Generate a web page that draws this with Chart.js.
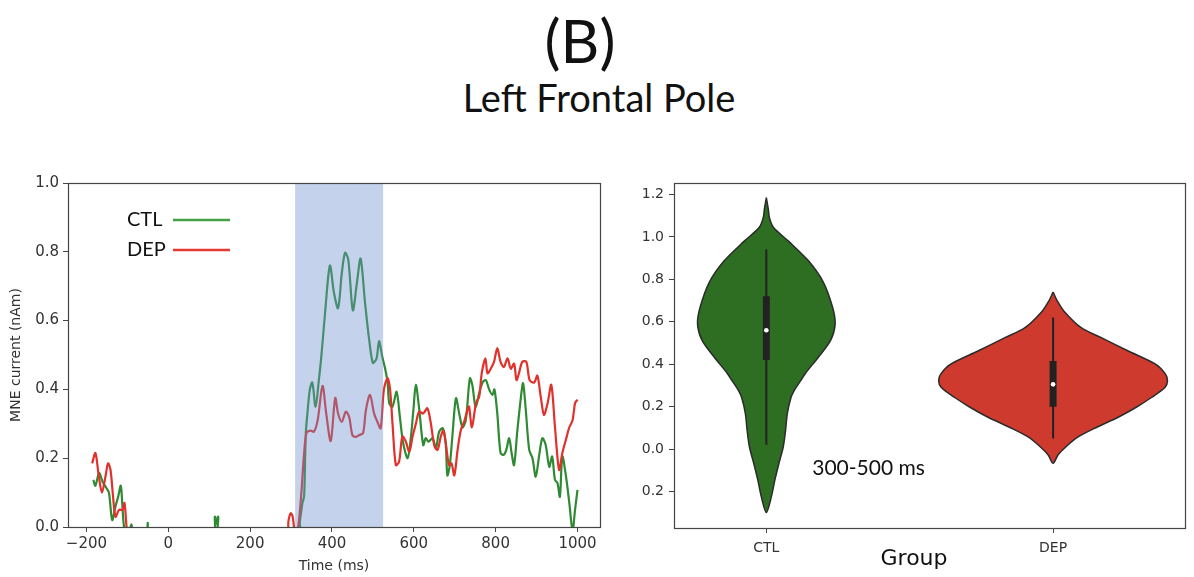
<!DOCTYPE html>
<html><head><meta charset="utf-8">
<script src="https://cdn.jsdelivr.net/npm/chart.js@4.4.0/dist/chart.umd.min.js"></script>
<style>
html,body{margin:0;padding:0;background:#fff;width:1194px;height:577px;overflow:hidden;}
#wrap{position:relative;width:1194px;height:577px;}
.t{position:absolute;text-align:center;font-family:Lato,'Open Sans',sans-serif;color:#111;white-space:nowrap;line-height:1;}
#t1{top:10px;left:380px;width:400px;font-size:60px;}
#t2{top:78px;left:399px;width:400px;font-size:38px;}
#c1{position:absolute;left:0;top:170px;}
#c2{position:absolute;left:610px;top:170px;}
</style></head>
<body><div id="wrap">
<div class="t" id="t1">(B)</div>
<div class="t" id="t2">Left Frontal Pole</div>
<canvas id="c1" width="610" height="407"></canvas>
<canvas id="c2" width="584" height="407"></canvas>
</div>
<script>
// ---------- Left panel data ----------
const seriesNames = ['CTL', 'DEP'];
const timeTicks = [-200, 0, 200, 400, 600, 800, 1000];
const timeTickLabels = ['\u2212200', '0', '200', '400', '600', '800', '1000'];
const currentTicks = [0, 0.2, 0.4, 0.6, 0.8, 1.0];
const currentTickLabels = ['0.0', '0.2', '0.4', '0.6', '0.8', '1.0'];
const shadeWindow = [310, 525];

const ctlTime = [-183,-178,-169,-160,-152,-145,-137,-129,-122,-116,-112,-108,-100,-90,-84,-54,-50,-46,108,114,118,122,127,316,322,328,332,336,340,346,352,360,368,374,383,395,405,415,424,432,440,451,461,470,481,491,500,509,515,523,530,536,540,548,558,566,574,585,593,599,605,613,623,629,636,646,654,662,671,678,682,688,694,703,711,719,727,737,743,751,760,768,776,784,792,797,804,812,820,826,833,839,845,853,862,867,873,882,890,898,906,914,922,931,938,945,951,957,963,972,980,988,994,1000];
const ctlValues = [0.137,0.12,0.157,0.13,0.115,0.10,0.02,0.06,0.09,0.12,0.06,0.0,-0.03,0.008,-0.03,-0.02,0.012,-0.03,-0.03,0.03,0.01,0.03,-0.03,-0.03,0.02,0.07,0.09,0.27,0.33,0.40,0.42,0.35,0.427,0.495,0.62,0.76,0.68,0.636,0.737,0.797,0.776,0.63,0.71,0.78,0.65,0.544,0.477,0.49,0.54,0.495,0.46,0.42,0.36,0.35,0.393,0.32,0.244,0.2,0.263,0.34,0.413,0.345,0.238,0.258,0.248,0.258,0.229,0.277,0.287,0.244,0.15,0.18,0.26,0.374,0.33,0.29,0.31,0.432,0.413,0.35,0.39,0.42,0.427,0.40,0.384,0.40,0.33,0.215,0.21,0.224,0.258,0.215,0.18,0.28,0.38,0.418,0.35,0.224,0.2,0.146,0.205,0.258,0.24,0.175,0.205,0.137,0.128,0.088,0.205,0.146,0.07,-0.01,0.05,0.108];

const depTime = [-186,-178,-170,-162,-153,-147,-141,-135,-129,-120,-112,-107,-101,-95,285,294,299,304,309,316,324,332,338,348,356,365,377,386,397,408,415,424,434,442,450,458,466,476,483,493,503,511,519,527,536,542,548,556,564,572,580,589,597,605,613,623,633,641,650,658,666,672,678,686,692,699,707,715,723,731,735,742,752,760,766,775,780,788,796,804,812,820,829,837,845,851,857,865,875,883,894,902,910,918,927,936,945,955,963,972,980,988,994,1000];
const depValues = [0.185,0.215,0.15,0.10,0.15,0.185,0.165,0.09,0.03,0.05,0.05,0.07,-0.01,-0.04,-0.04,0.02,0.04,0.03,-0.01,-0.01,0.08,0.215,0.274,0.28,0.277,0.31,0.41,0.33,0.25,0.375,0.33,0.306,0.335,0.32,0.267,0.262,0.267,0.273,0.34,0.384,0.33,0.306,0.287,0.40,0.433,0.40,0.30,0.18,0.19,0.263,0.25,0.219,0.263,0.30,0.335,0.33,0.345,0.306,0.238,0.224,0.263,0.28,0.244,0.18,0.185,0.15,0.224,0.282,0.306,0.34,0.35,0.29,0.36,0.38,0.447,0.49,0.447,0.46,0.48,0.52,0.48,0.465,0.49,0.46,0.475,0.427,0.447,0.48,0.48,0.427,0.42,0.44,0.38,0.326,0.36,0.413,0.29,0.166,0.215,0.255,0.29,0.31,0.36,0.37];

// ---------- Right panel data ----------
const groupLabels = ['CTL', 'DEP'];
const windowLabel = '300-500 ms';
const violinTickValues = [1.2, 1.0, 0.8, 0.6, 0.4, 0.2, 0.0, -0.2];
const violinTickLabels = ['1.2', '1.0', '0.8', '0.6', '0.4', '0.2', '0.0', '0.2'];

const ctlViolinLevels = [1.185,1.13,1.092,1.045,0.98,0.887,0.786,0.668,0.59,0.512,0.434,0.356,0.321,0.278,0.243,0.166,0.088,0.011,-0.067,-0.144,-0.222,-0.299];
const ctlViolinHalfWidths = [0,0.007,0.0105,0.0245,0.077,0.147,0.199,0.231,0.24,0.224,0.182,0.136,0.119,0.098,0.086,0.073,0.067,0.059,0.044,0.030,0.018,0];
const depViolinLevels = [0.74,0.70,0.65,0.572,0.525,0.462,0.40,0.353,0.321,0.29,0.243,0.197,0.15,0.104,0.057,0.011,-0.028,-0.067];
const depViolinHalfWidths = [0,0.014,0.038,0.098,0.168,0.262,0.357,0.392,0.399,0.39,0.343,0.29,0.227,0.154,0.087,0.045,0.017,0];

const ctlBox = [0.42, 0.72];
const ctlWhisker = [0.02, 0.94];
const ctlMedian = 0.56;
const depBox = [0.20, 0.415];
const depWhisker = [0.05, 0.62];
const depMedian = 0.305;

// ---------- helpers ----------
Chart.defaults.font.family = "'DejaVu Sans', sans-serif";
Chart.defaults.color = '#333';

const pts = (xs, ys) => xs.map((x, i) => ({x: x, y: ys[i]}));

function violinShape(center, levels, hws) {
  const right = levels.map((l, i) => ({x: center + hws[i], y: l}));
  const left = levels.map((l, i) => ({x: center - hws[i], y: l})).reverse();
  return right.concat(left.slice(1));
}

const framePlugin = {
  id: 'frame',
  afterDraw(chart) {
    const {ctx, chartArea: a} = chart;
    ctx.save();
    ctx.strokeStyle = '#444';
    ctx.lineWidth = 1.2;
    ctx.strokeRect(Math.round(a.left) + 0.5, Math.round(a.top) + 0.5, Math.round(a.right - a.left), Math.round(a.bottom - a.top));
    ctx.restore();
  }
};

const shadePlugin = {
  id: 'shade',
  afterDatasetsDraw(chart) {
    const {ctx, chartArea: a, scales: {x}} = chart;
    const x0 = x.getPixelForValue(shadeWindow[0]);
    const x1 = x.getPixelForValue(shadeWindow[1]);
    ctx.save();
    ctx.fillStyle = 'rgba(108,145,204,0.40)';
    ctx.fillRect(x0, a.top, x1 - x0, a.bottom - a.top);
    ctx.restore();
  }
};

const legendColors = ['#45a045', '#e53a30'];
const lineLegendPlugin = {
  id: 'lineLegend',
  afterDraw(chart) {
    const {ctx, chartArea: a} = chart;
    ctx.save();
    ctx.font = "20px Lato, 'Open Sans', sans-serif";
    ctx.textBaseline = 'middle';
    ctx.textAlign = 'left';
    seriesNames.forEach((name, i) => {
      const yy = a.top + 37 + i * 30;
      ctx.fillStyle = '#111';
      ctx.fillText(name, a.left + 59, yy);
      ctx.strokeStyle = legendColors[i];
      ctx.lineWidth = 2.6;
      ctx.beginPath();
      ctx.moveTo(a.left + 105, yy);
      ctx.lineTo(a.left + 162, yy);
      ctx.stroke();
    });
    ctx.restore();
  }
};

const violinTextPlugin = {
  id: 'violinText',
  afterDraw(chart) {
    const {ctx, scales: {x, y}, chartArea: a} = chart;
    ctx.save();
    ctx.fillStyle = '#111';
    ctx.textBaseline = 'middle';
    ctx.textAlign = 'left';
    ctx.font = "21px Lato, 'Open Sans', sans-serif";
    ctx.fillText(windowLabel, x.getPixelForValue(0.16), y.getPixelForValue(-0.09));
    ctx.textAlign = 'center';
    ctx.font = "22px 'DejaVu Sans', sans-serif";
    ctx.fillText('Group', x.getPixelForValue(0.515), a.bottom + 31);
    ctx.restore();
  }
};

// ---------- Left chart ----------
new Chart(document.getElementById('c1'), {
  type: 'line',
  data: {
    datasets: [
      {label: seriesNames[1], data: pts(depTime, depValues), borderColor: '#e2302a', borderWidth: 2.2, pointRadius: 0, tension: 0.3, fill: false, clip: 0, order: 0},
      {label: seriesNames[0], data: pts(ctlTime, ctlValues), borderColor: '#2f8a33', borderWidth: 2.2, pointRadius: 0, tension: 0.3, fill: false, clip: 0, order: 1}
    ]
  },
  options: {
    responsive: false,
    animation: false,
    events: [],
    layout: {padding: {top: 13, right: 10, left: 0, bottom: 0}},
    plugins: {legend: {display: false}, tooltip: {enabled: false}},
    scales: {
      x: {
        type: 'linear', min: -245, max: 1055,
        afterBuildTicks: s => { s.ticks = timeTicks.map(v => ({value: v})); },
        afterFit: s => { s.height = 50; },
        ticks: {callback: v => timeTickLabels[timeTicks.indexOf(v)], font: {size: 15}, color: '#333', padding: 3, maxRotation: 0, autoSkip: false},
        grid: {display: true, drawOnChartArea: false, drawTicks: true, tickLength: 5, color: '#444'},
        border: {display: true, color: '#444'},
        title: {display: true, text: 'Time (ms)', font: {size: 14}, color: '#333', padding: {top: 0, bottom: 2}}
      },
      y: {
        type: 'linear', min: 0, max: 1,
        afterBuildTicks: s => { s.ticks = currentTicks.map(v => ({value: v})); },
        afterFit: s => { s.width = 68; },
        ticks: {callback: v => currentTickLabels[currentTicks.indexOf(v)], font: {size: 15}, color: '#333', padding: 4},
        grid: {display: true, drawOnChartArea: false, drawTicks: true, tickLength: 5, color: '#444'},
        border: {display: true, color: '#444'},
        title: {display: true, text: 'MNE current (nAm)', font: {size: 14}, color: '#333', padding: {top: 8, bottom: 0}}
      }
    }
  },
  plugins: [shadePlugin, framePlugin, lineLegendPlugin]
});

// ---------- Right chart ----------
const ctlCenter = 0, depCenter = 1;
new Chart(document.getElementById('c2'), {
  type: 'scatter',
  data: {
    datasets: [
      {label: 'CTL median', data: [{x: ctlCenter, y: ctlMedian}], pointRadius: 2.3, pointBackgroundColor: '#fff', pointBorderWidth: 0, showLine: false, order: 0},
      {label: 'DEP median', data: [{x: depCenter, y: depMedian}], pointRadius: 2.3, pointBackgroundColor: '#fff', pointBorderWidth: 0, showLine: false, order: 0},
      {label: 'CTL box', data: [{x: ctlCenter, y: ctlBox[0]}, {x: ctlCenter, y: ctlBox[1]}], showLine: true, borderColor: '#222', borderWidth: 7, borderCapStyle: 'butt', pointRadius: 0, order: 1},
      {label: 'DEP box', data: [{x: depCenter, y: depBox[0]}, {x: depCenter, y: depBox[1]}], showLine: true, borderColor: '#222', borderWidth: 7, borderCapStyle: 'butt', pointRadius: 0, order: 1},
      {label: 'CTL whisker', data: [{x: ctlCenter, y: ctlWhisker[0]}, {x: ctlCenter, y: ctlWhisker[1]}], showLine: true, borderColor: '#222', borderWidth: 2, pointRadius: 0, order: 2},
      {label: 'DEP whisker', data: [{x: depCenter, y: depWhisker[0]}, {x: depCenter, y: depWhisker[1]}], showLine: true, borderColor: '#222', borderWidth: 2, pointRadius: 0, order: 2},
      {label: groupLabels[0], data: violinShape(ctlCenter, ctlViolinLevels, ctlViolinHalfWidths), showLine: true, fill: 'shape', backgroundColor: '#2e6e22', borderColor: '#2b2b2b', borderWidth: 1.5, tension: 0.3, pointRadius: 0, order: 3},
      {label: groupLabels[1], data: violinShape(depCenter, depViolinLevels, depViolinHalfWidths), showLine: true, fill: 'shape', backgroundColor: '#cf3a2e', borderColor: '#2b2b2b', borderWidth: 1.5, tension: 0.3, pointRadius: 0, order: 3}
    ]
  },
  options: {
    responsive: false,
    animation: false,
    events: [],
    layout: {padding: {top: 12, right: 9, left: 0, bottom: 0}},
    plugins: {legend: {display: false}, tooltip: {enabled: false}},
    scales: {
      x: {
        type: 'linear', min: -0.322, max: 1.46,
        afterBuildTicks: s => { s.ticks = [ctlCenter, depCenter].map(v => ({value: v})); },
        afterFit: s => { s.height = 49; },
        ticks: {callback: v => groupLabels[v], font: {size: 14}, color: '#333', padding: 7, maxRotation: 0, autoSkip: false},
        grid: {display: true, drawOnChartArea: false, drawTicks: true, tickLength: 5, color: '#444'},
        border: {display: true, color: '#444'}
      },
      y: {
        type: 'linear', min: -0.372, max: 1.252,
        afterBuildTicks: s => { s.ticks = violinTickValues.map(v => ({value: v})); },
        afterFit: s => { s.width = 64; },
        ticks: {callback: v => violinTickLabels[violinTickValues.findIndex(t => Math.abs(t - v) < 1e-9)], font: {size: 14}, color: '#333', padding: 5},
        grid: {display: true, drawOnChartArea: false, drawTicks: true, tickLength: 5, color: '#444'},
        border: {display: true, color: '#444'}
      }
    }
  },
  plugins: [framePlugin, violinTextPlugin]
});
</script>
</body></html>
